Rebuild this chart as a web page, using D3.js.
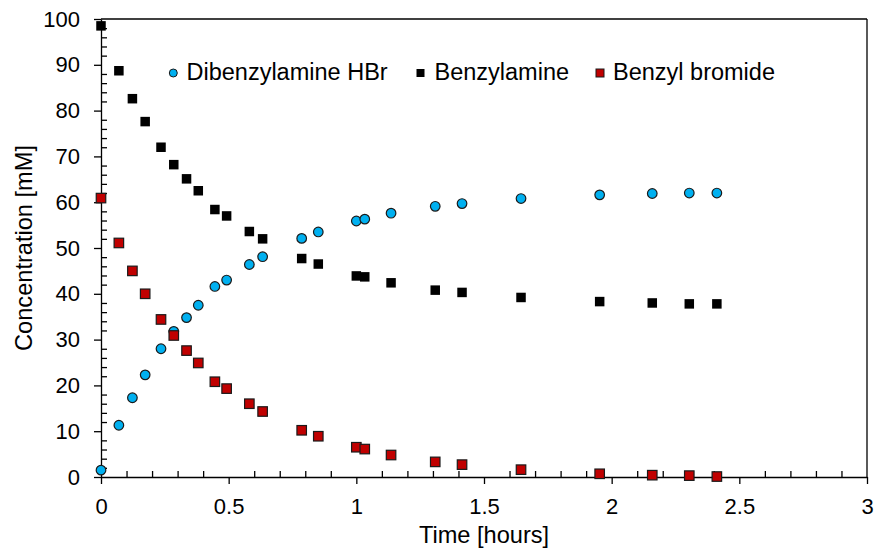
<!DOCTYPE html>
<html>
<head>
<meta charset="utf-8">
<script src="https://cdn.jsdelivr.net/npm/d3@7"></script>
<style>
  html, body { margin: 0; padding: 0; background: #fff; }
  svg text { font-family: "Liberation Sans", Arial, sans-serif; fill: #000; }
</style>
</head>
<body>
<svg id="chart" width="875" height="550"></svg>
<script>
const time = [0, 0.07, 0.123, 0.173, 0.235, 0.285, 0.335, 0.381, 0.446, 0.492, 0.581, 0.633,
              0.786, 0.851, 1.0, 1.033, 1.136, 1.309, 1.414, 1.645, 1.953, 2.159, 2.304, 2.412];
const dibenzylamineHBr = [1.5, 11.3, 17.3, 22.3, 28.0, 31.8, 34.8, 37.5, 41.6, 43.0, 46.4, 48.1,
                          52.1, 53.5, 55.9, 56.3, 57.6, 59.1, 59.7, 60.8, 61.6, 61.9, 62.0, 62.0];
const benzylamine = [98.5, 88.7, 82.6, 77.6, 72.0, 68.2, 65.1, 62.5, 58.4, 57.0, 53.6, 52.0,
                     47.7, 46.5, 43.9, 43.7, 42.4, 40.8, 40.3, 39.2, 38.3, 38.0, 37.8, 37.8];
const benzylBromide = [60.9, 51.1, 45.0, 40.0, 34.4, 30.9, 27.6, 24.9, 20.8, 19.3, 16.0, 14.3,
                       10.2, 8.9, 6.5, 6.1, 4.8, 3.3, 2.7, 1.6, 0.7, 0.4, 0.3, 0.1];
const seriesNames = ["Dibenzylamine HBr", "Benzylamine", "Benzyl bromide"];
const xTicks = [0, 0.5, 1, 1.5, 2, 2.5, 3];
const yTicks = [0, 10, 20, 30, 40, 50, 60, 70, 80, 90, 100];
const xTitle = "Time [hours]";
const yTitle = "Concentration [mM]";

(function () {
const svg = d3.select("#chart");
const mL = 101, mR = 867, mT = 19, mB = 477;
const x = d3.scaleLinear().domain([0, 3]).range([mL, mR]);
const y = d3.scaleLinear().domain([0, 100]).range([mB, mT]);

// frame lines (top, right)
svg.append("line").attr("x1", mL).attr("x2", mR).attr("y1", mT).attr("y2", mT)
  .attr("stroke", "#000").attr("stroke-width", 1.3);
svg.append("line").attr("x1", mR).attr("x2", mR).attr("y1", mT).attr("y2", mB)
  .attr("stroke", "#000").attr("stroke-width", 1.3);

// minor ticks
const xMinor = d3.range(0, 31).map(i => i / 10).filter((v, i) => i % 5 !== 0);
const yMinor = d3.range(0, 101, 2).filter(v => v % 10 !== 0);
svg.append("g").attr("transform", `translate(0,${mB})`)
  .call(d3.axisBottom(x).tickValues(xMinor).tickSize(-6).tickFormat(""))
  .call(g => g.select(".domain").remove())
  .call(g => g.selectAll("line").attr("stroke", "#000").attr("stroke-width", 1.3));
svg.append("g").attr("transform", `translate(${mL},0)`)
  .call(d3.axisLeft(y).tickValues(yMinor).tickSize(-6).tickFormat(""))
  .call(g => g.select(".domain").remove())
  .call(g => g.selectAll("line").attr("stroke", "#000").attr("stroke-width", 1.3));

// major axes
const xAxis = svg.append("g").attr("transform", `translate(0,${mB})`)
  .call(d3.axisBottom(x).tickValues(xTicks).tickSize(7).tickSizeOuter(0).tickPadding(14)
        .tickFormat(d => String(d)));
const yAxis = svg.append("g").attr("transform", `translate(${mL},0)`)
  .call(d3.axisLeft(y).tickValues(yTicks).tickSize(7).tickSizeOuter(0).tickPadding(14)
        .tickFormat(d => String(d)));
[xAxis, yAxis].forEach(g => {
  g.select(".domain").attr("stroke", "#000").attr("stroke-width", 1.3);
  g.selectAll(".tick line").attr("stroke", "#000").attr("stroke-width", 1.3);
  g.selectAll(".tick text").attr("font-size", 22).attr("fill", "#000")
    .style("font-family", '"Liberation Sans", Arial, sans-serif');
});

// axis titles
svg.append("text").attr("x", (mL + mR) / 2).attr("y", 543)
  .attr("text-anchor", "middle").attr("font-size", 23.6).text(xTitle);
svg.append("text").attr("transform", `translate(32,${(mT + mB) / 2}) rotate(-90)`)
  .attr("text-anchor", "middle").attr("font-size", 23.6).text(yTitle);

// data
const pts = (vals) => time.map((t, i) => ({ t, v: vals[i] }));
const plot = svg.append("g");
plot.selectAll("circle.dib").data(pts(dibenzylamineHBr)).join("circle")
  .attr("class", "dib").attr("cx", d => x(d.t)).attr("cy", d => y(d.v)).attr("r", 4.8)
  .attr("fill", "#00B0F0").attr("stroke", "#1a1a1a").attr("stroke-width", 1.2);
const sq = 9.5;
plot.selectAll("rect.bza").data(pts(benzylamine)).join("rect")
  .attr("class", "bza").attr("x", d => x(d.t) - sq / 2).attr("y", d => y(d.v) - sq / 2)
  .attr("width", sq).attr("height", sq).attr("fill", "#000");
plot.selectAll("rect.bbr").data(pts(benzylBromide)).join("rect")
  .attr("class", "bbr").attr("x", d => x(d.t) - sq / 2).attr("y", d => y(d.v) - sq / 2)
  .attr("width", sq).attr("height", sq).attr("fill", "#C00000")
  .attr("stroke", "#1a1a1a").attr("stroke-width", 1.2);

// legend
const lg = svg.append("g");
const ly = 73;
const lfs = 23.5;
lg.append("circle").attr("cx", 173.3).attr("cy", ly).attr("r", 4)
  .attr("fill", "#00B0F0").attr("stroke", "#1a1a1a").attr("stroke-width", 1);
lg.append("text").attr("x", 186.5).attr("y", 79.5).attr("font-size", lfs).text(seriesNames[0]);
lg.append("rect").attr("x", 416.5).attr("y", ly - 4).attr("width", 8).attr("height", 8).attr("fill", "#000");
lg.append("text").attr("x", 434.5).attr("y", 79.5).attr("font-size", lfs).text(seriesNames[1]);
lg.append("rect").attr("x", 596).attr("y", ly - 4).attr("width", 8).attr("height", 8)
  .attr("fill", "#C00000").attr("stroke", "#1a1a1a").attr("stroke-width", 1);
lg.append("text").attr("x", 613).attr("y", 79.5).attr("font-size", lfs).text(seriesNames[2]);
})();
</script>
</body>
</html>
